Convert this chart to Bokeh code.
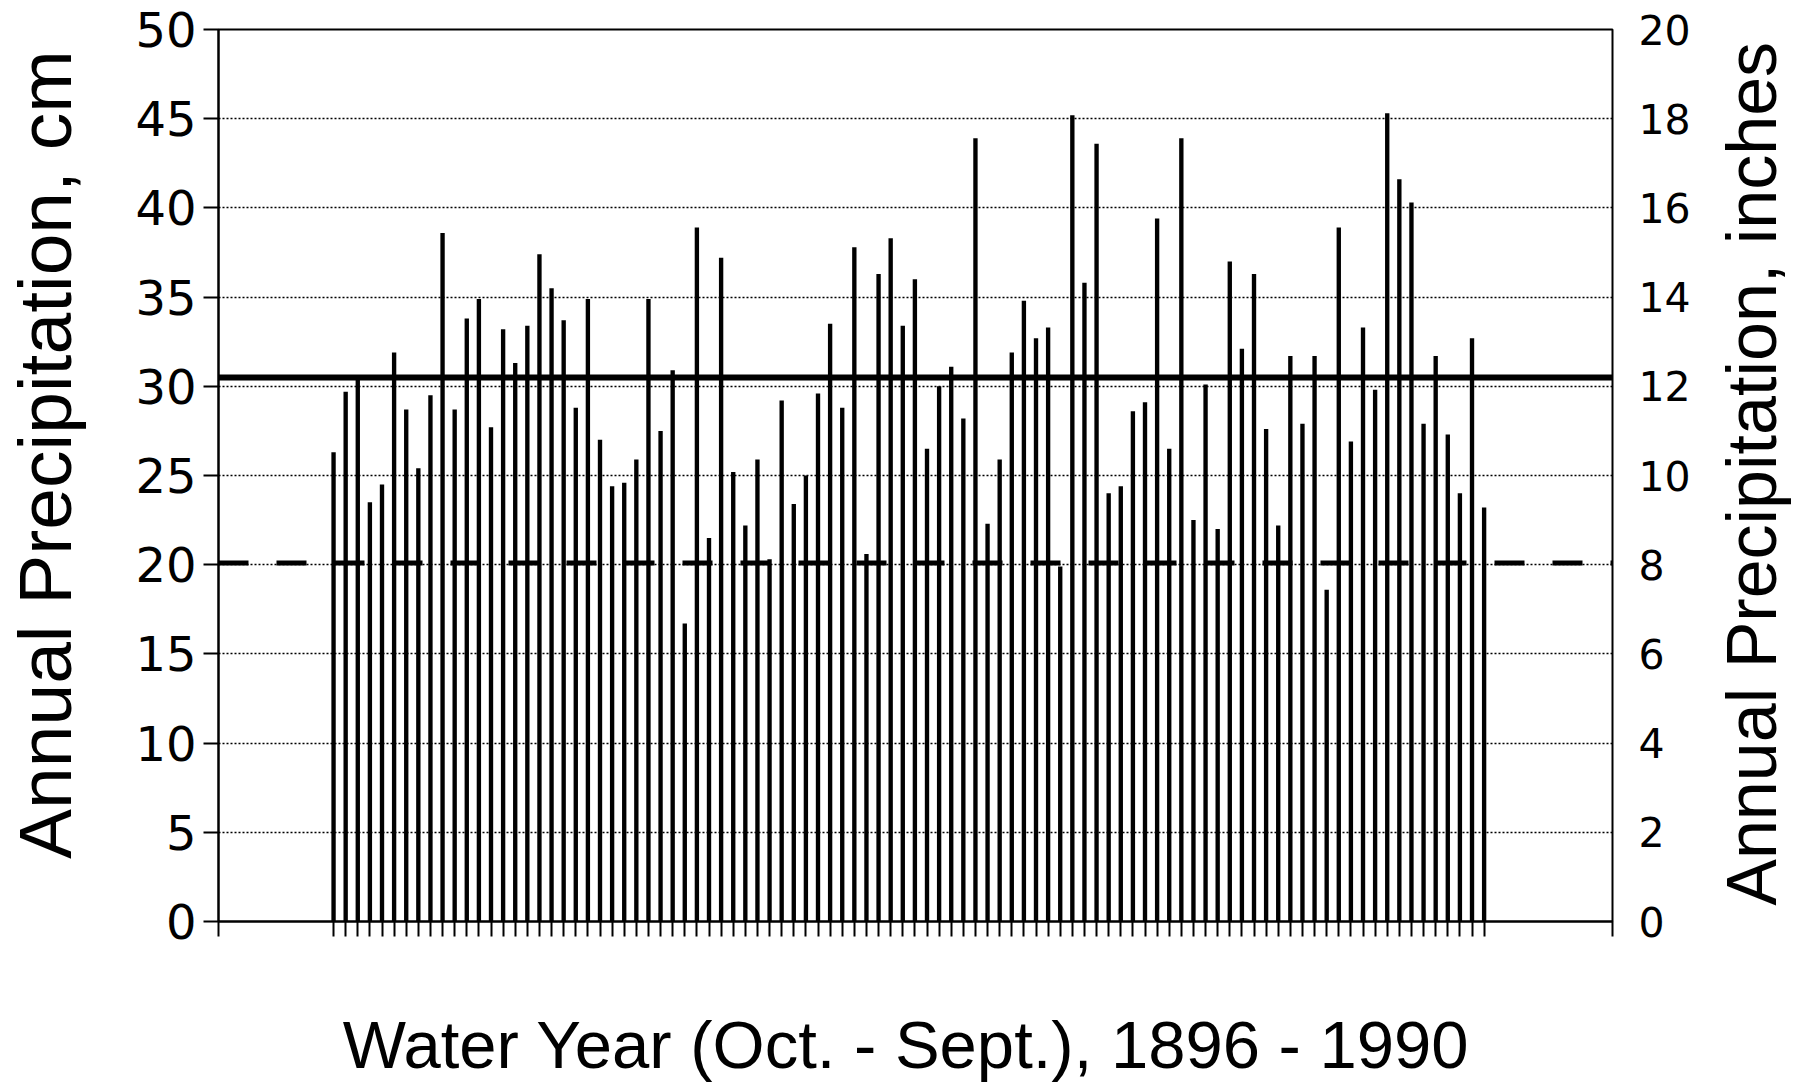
import math
from bokeh.plotting import figure
from bokeh.layouts import row
from bokeh.models import Range1d, LinearAxis, FixedTicker
from bokeh.core.properties import value
from bokeh.embed import file_html
from bokeh.resources import INLINE

# ---- data ----
years = list(range(1895, 1991))
precip_cm = [
    26.3, 29.7, 30.5, 23.5, 24.5, 31.9, 28.7, 25.4, 29.5, 38.6,
    28.7, 33.8, 34.9, 27.7, 33.2, 31.3, 33.4, 37.4, 35.5, 33.7,
    28.8, 34.9, 27.0, 24.4, 24.6, 25.9, 34.9, 27.5, 30.9, 16.7,
    38.9, 21.5, 37.2, 25.2, 22.2, 25.9, 20.3, 29.2, 23.4, 25.0,
    29.6, 33.5, 28.8, 37.8, 20.6, 36.3, 38.3, 33.4, 36.0, 26.5,
    30.0, 31.1, 28.2, 43.9, 22.3, 25.9, 31.9, 34.8, 32.7, 33.3,
    19.9, 45.2, 35.8, 43.6, 24.0, 24.4, 28.6, 29.1, 39.4, 26.5,
    43.9, 22.5, 30.1, 22.0, 37.0, 32.1, 36.3, 27.6, 22.2, 31.7,
    27.9, 31.7, 18.6, 38.9, 26.9, 33.3, 29.8, 45.3, 41.6, 40.3,
    27.9, 31.7, 27.3, 24.0, 32.7, 23.2,
]
mean_cm = 30.5        # solid reference line
low_cm = 20.1         # dashed reference line
cm_ticks = [0, 5, 10, 15, 20, 25, 30, 35, 40, 45, 50]
cm_grid = [5, 10, 15, 20, 25, 30, 35, 40, 45]
inch_ticks = [0, 2, 4, 6, 8, 10, 12, 14, 16, 18, 20]
x_title = "Water Year (Oct. - Sept.), 1896 - 1990"
y_title = "Annual Precipitation, cm"
y2_title = "Annual Precipitation, inches"

X0, X1 = 1885.5, 2000.6
H = 1084
W_MAIN = 1702
W_SIDE = 98

p = figure(width=W_MAIN, height=H, x_range=Range1d(X0, X1), y_range=Range1d(0, 50),
           output_backend="svg", toolbar_location=None,
           min_border_left=215, min_border_right=W_MAIN - 1612, min_border_top=29, min_border_bottom=163)
p.background_fill_color = "white"
p.border_fill_color = "white"
p.outline_line_color = "black"
p.outline_line_width = 2

# grid
p.xgrid.visible = False
p.ygrid.ticker = FixedTicker(ticks=cm_grid)
p.ygrid.grid_line_color = "black"
p.ygrid.grid_line_dash = "2 2"
p.ygrid.grid_line_width = 1.5

# left axis
ya = p.yaxis[0]
ya.ticker = FixedTicker(ticks=cm_ticks)
ya.major_tick_out = 15
ya.major_tick_in = 0
ya.minor_tick_out = 0
ya.minor_tick_in = 0
ya.major_tick_line_width = 2
ya.axis_line_width = 2
ya.major_label_standoff = 7
ya.major_label_text_font = "DejaVu Sans"
ya.major_label_text_font_size = "48px"
ya.major_label_text_color = "black"
ya.axis_label = "\u00a0\u00a0" + y_title
ya.axis_label_standoff = 45
ya.axis_label_text_font = "Liberation Sans"
ya.axis_label_text_font_size = "75px"
ya.axis_label_text_font_style = "normal"
ya.axis_label_text_color = "black"

# bottom axis (ticks only, title below)
xa = p.xaxis[0]
xa.ticker = FixedTicker(ticks=[X0] + years + [X1])
xa.major_tick_out = 15
xa.major_tick_in = 0
xa.minor_tick_out = 0
xa.minor_tick_in = 0
xa.major_tick_line_width = 2
xa.axis_line_width = 2
xa.major_label_standoff = 0
xa.major_label_text_font_size = "1px"
xa.major_label_text_alpha = 0
xa.axis_label = x_title + "\u00a0"
xa.axis_label_standoff = 70
xa.axis_label_text_font = "Liberation Sans"
xa.axis_label_text_font_size = "67px"
xa.axis_label_text_font_style = "normal"
xa.axis_label_text_color = "black"

# right axis (inches)
p.extra_y_ranges = {"in": Range1d(0, 20)}
ra = LinearAxis(y_range_name="in", ticker=FixedTicker(ticks=inch_ticks))
ra.major_tick_out = 0
ra.major_tick_in = 0
ra.minor_tick_out = 0
ra.minor_tick_in = 0
ra.axis_line_color = None
ra.major_label_standoff = 26
ra.major_label_text_font = "DejaVu Sans"
ra.major_label_text_font_size = "41px"
ra.major_label_text_color = "black"
p.add_layout(ra, "right")

# bars
p.vbar(x=years, top=precip_cm, bottom=0, width=0.36, fill_color="black", line_color=None)

# reference lines
p.line(x=[X0, X1], y=[mean_cm, mean_cm], line_color="black", line_width=6)
p.line(x=[X0, X1], y=[low_cm, low_cm], line_color="black", line_width=5, line_dash="30 28")

# right-hand title, reading bottom to top, in a narrow companion figure
side = figure(width=W_SIDE, height=H, x_range=Range1d(0, W_SIDE), y_range=Range1d(0, H),
              output_backend="svg", toolbar_location=None,
              x_axis_location=None, y_axis_location=None,
              min_border_left=0, min_border_right=0, min_border_top=0, min_border_bottom=0)
side.outline_line_color = None
side.xgrid.visible = False
side.ygrid.visible = False
side.background_fill_color = "white"
side.border_fill_color = "white"
side.text(x=[49], y=[H - 540], text=[y2_title], angle=math.pi / 2,
          text_align="center", text_baseline="middle",
          text_font=value("Liberation Sans"), text_font_size="70px", text_color="black")

layout = row(p, side, spacing=0)

open("out.html", "w").write(file_html(layout, INLINE))
